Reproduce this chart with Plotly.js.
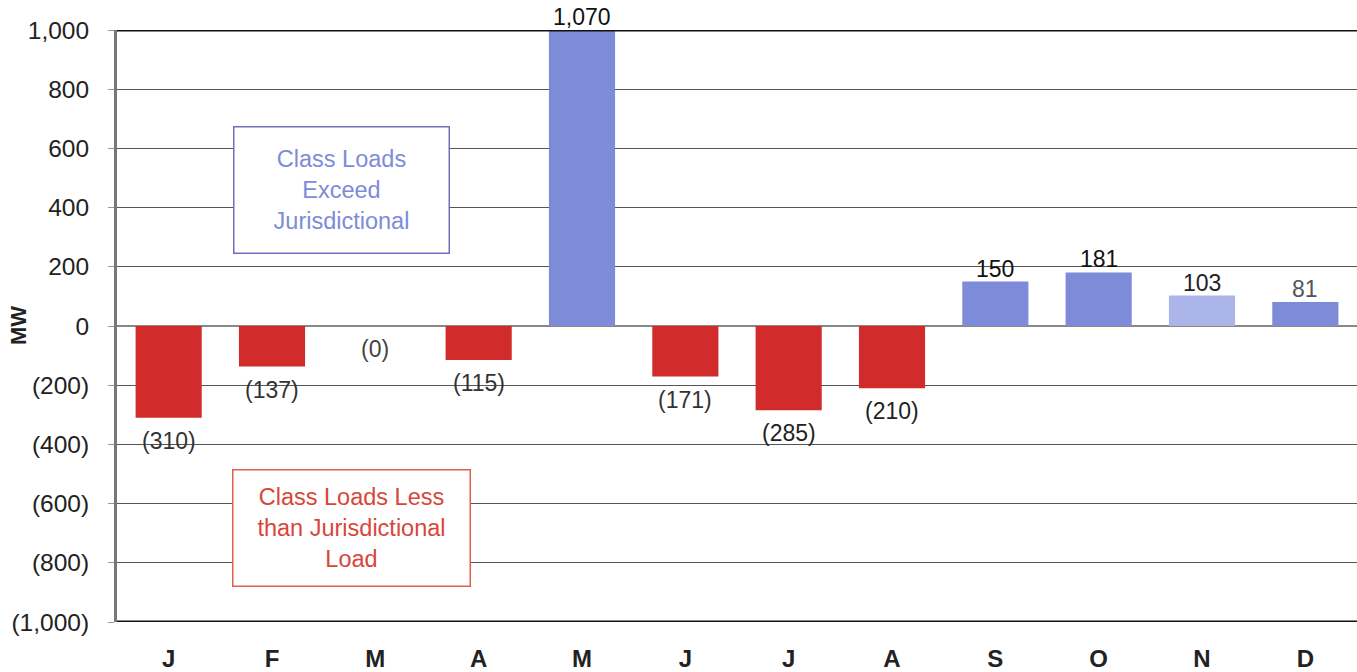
<!DOCTYPE html>
<html>
<head>
<meta charset="utf-8">
<script src="https://cdn.plot.ly/plotly-3.0.1.min.js"></script>
<style>html,body{margin:0;padding:0;background:#fff;}#chart{width:1357px;height:672px;}</style>
</head>
<body>
<div id="chart"></div>
<script>
const categories = ["J","F","M","A","M","J","J","A","S","O","N","D"];
const values = [-310,-137,0,-115,1070,-171,-285,-210,150,181,103,81];
const labels = ["(310)","(137)","(0)","(115)","1,070","(171)","(285)","(210)","150","181","103","81"];
const barColors = ["#d22b2b","#d22b2b","#d22b2b","#d22b2b","#7d8bd9","#d22b2b","#d22b2b","#d22b2b","#7d8bd9","#7d8bd9","#abb5ea","#7d8bd9"];
const labelColors = ["#333","#333","#444","#333","#111","#333","#222","#222","#111","#111","#222","#555"];
const tickVals = [1000,800,600,400,200,0,-200,-400,-600,-800,-1000];
const tickText = ["1,000","800","600","400","200","0","(200)","(400)","(600)","(800)","(1,000)"];
const yMin = -1000, yMax = 1000;

const FONT = "Liberation Sans, Arial, Helvetica, sans-serif";
const xIdx = categories.map((c,i)=>i);

const trace = {
  type: "bar",
  x: xIdx,
  y: values,
  width: 0.64,
  marker: {color: barColors, line: {width: 0}},
  hoverinfo: "skip"
};

const annotations = values.map((v,i)=>{
  const pos = v > 0;
  const yv = Math.max(Math.min(v, yMax), yMin);
  return {
    x: i, y: yv, xref: "x", yref: "y",
    text: labels[i], showarrow: false,
    yanchor: pos ? "bottom" : "top",
    yshift: pos ? -2 : -8,
    font: {family: FONT, size: 23, color: labelColors[i]}
  };
});

annotations.push({
  x: 1.67, y: 459, xref: "x", yref: "y", showarrow: false,
  text: "Class Loads<br>Exceed<br>Jurisdictional",
  width: 210, height: 121, bgcolor: "#ffffff",
  bordercolor: "#6f6fc0", borderwidth: 1.5, borderpad: 2,
  font: {family: FONT, size: 23.5, color: "#7d8bd9"},
  align: "center", valign: "middle"
});
annotations.push({
  x: 1.77, y: -682, xref: "x", yref: "y", showarrow: false,
  text: "Class Loads Less<br>than Jurisdictional<br>Load",
  width: 232, height: 111, bgcolor: "#ffffff",
  bordercolor: "#e0604f", borderwidth: 1.5, borderpad: 2,
  font: {family: FONT, size: 23.5, color: "#d8463a"},
  align: "center", valign: "middle"
});
annotations.push({
  x: -0.0798, y: 0.5, xref: "paper", yref: "paper", showarrow: false,
  xanchor: "center", yanchor: "middle",
  text: "<b>MW</b>", textangle: -90,
  font: {family: FONT, size: 22, color: "#222"}
});

const layout = {
  width: 1357, height: 672,
  margin: {l: 117, r: 0, t: 30, b: 50},
  paper_bgcolor: "#ffffff", plot_bgcolor: "#ffffff",
  showlegend: false,
  xaxis: {
    range: [-0.5, 11.5],
    tickvals: xIdx, ticktext: categories,
    showgrid: false, zeroline: false, showline: false,
    ticks: "", ticklen: 0,
    ticklabelstandoff: 20,
    tickfont: {family: FONT, size: 24, color: "#222", weight: "bold"},
    fixedrange: true
  },
  yaxis: {
    range: [yMin, yMax],
    tickvals: tickVals, ticktext: tickText,
    showgrid: true, gridcolor: "#555555", gridwidth: 1,
    zeroline: true, zerolinecolor: "#888888", zerolinewidth: 1.5,
    showline: true, linecolor: "#777777", linewidth: 3,
    ticks: "outside", ticklen: 6, tickcolor: "#999",
    ticklabelstandoff: 14,
    tickfont: {family: FONT, size: 24.5, color: "#222"},
    fixedrange: true
  },
  shapes: [
    {type: "line", xref: "paper", yref: "y", x0: 0, x1: 1, y0: yMax, y1: yMax, line: {color: "#111", width: 3}},
    {type: "line", xref: "paper", yref: "y", x0: 0, x1: 1, y0: yMin, y1: yMin, line: {color: "#111", width: 3}}
  ],
  annotations: annotations
};

Plotly.newPlot("chart", [trace], layout, {staticPlot: true, displayModeBar: false});
</script>
</body>
</html>
